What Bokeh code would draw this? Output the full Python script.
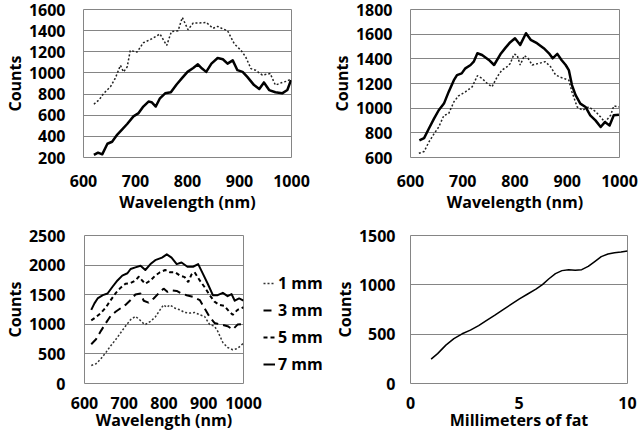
from bokeh.plotting import figure
from bokeh.layouts import column, row
from bokeh.models import Range1d, FixedTicker, Legend, LegendItem, Spacer
from bokeh.embed import file_html
from bokeh.resources import INLINE

# ---------------- data ----------------
# Panel A (top-left)
a_dot_x = [620, 630, 639, 652, 661, 671, 677, 684, 690, 703, 715, 731, 747, 760, 769, 782, 790, 801, 811, 823, 836, 849, 858, 868, 877, 890, 903, 912, 922, 931, 944, 959, 969, 982, 992, 998]
a_dot_y = [704, 745, 807, 870, 948, 1072, 1010, 1057, 1213, 1197, 1285, 1322, 1369, 1260, 1391, 1400, 1525, 1409, 1472, 1472, 1478, 1422, 1440, 1416, 1400, 1275, 1213, 1150, 1041, 1026, 979, 994, 885, 910, 923, 941]
a_sol_x = [620, 628, 636, 646, 655, 665, 674, 684, 696, 706, 715, 725, 731, 739, 747, 757, 768, 779, 789, 800, 811, 820, 828, 836, 846, 858, 868, 877, 887, 896, 906, 915, 928, 938, 947, 957, 969, 982, 992, 999]
a_sol_y = [224, 246, 230, 330, 349, 417, 464, 517, 589, 620, 682, 729, 723, 682, 760, 807, 817, 891, 948, 1010, 1047, 1082, 1041, 1010, 1088, 1141, 1129, 1088, 1119, 1026, 1010, 963, 885, 848, 910, 838, 817, 807, 838, 932]

# Panel B (top-right)
b_sol_x = [617, 626, 635, 645, 654, 664, 673, 683, 689, 698, 705, 715, 721, 728, 737, 750, 760, 772, 782, 791, 800, 810, 821, 830, 842, 855, 865, 872, 881, 889, 897, 903, 909, 916, 925, 935, 944, 954, 964, 972, 981, 989, 999]
b_sol_y = [738, 757, 833, 915, 983, 1037, 1132, 1227, 1268, 1282, 1323, 1350, 1377, 1445, 1431, 1391, 1350, 1437, 1491, 1535, 1567, 1513, 1608, 1554, 1527, 1486, 1445, 1404, 1440, 1391, 1350, 1309, 1187, 1105, 1037, 1010, 942, 901, 847, 887, 860, 942, 947]
b_dot_x = [616, 626, 635, 645, 654, 664, 673, 683, 692, 705, 718, 728, 737, 747, 756, 766, 775, 785, 791, 798, 804, 810, 818, 825, 833, 846, 858, 868, 878, 890, 903, 909, 919, 929, 941, 954, 964, 972, 983, 989, 999]
b_dot_y = [634, 648, 724, 792, 847, 942, 955, 1051, 1100, 1132, 1173, 1263, 1241, 1200, 1173, 1255, 1309, 1336, 1363, 1437, 1431, 1350, 1426, 1404, 1350, 1363, 1377, 1336, 1268, 1246, 1227, 1132, 1010, 983, 1010, 974, 928, 887, 942, 1018, 1010]

# Panel C (bottom-left)
c_7_x = [617, 625, 633, 646, 658, 670, 683, 695, 708, 716, 728, 741, 753, 766, 778, 795, 807, 819, 832, 844, 859, 873, 886, 898, 910, 923, 935, 948, 960, 970, 978, 989, 1000]
c_7_y = [1244, 1354, 1437, 1492, 1520, 1630, 1741, 1823, 1862, 1934, 1961, 1989, 1917, 2017, 2083, 2127, 2182, 2127, 2017, 2044, 1972, 1972, 2017, 1851, 1685, 1492, 1492, 1531, 1476, 1509, 1398, 1437, 1398]
c_5_x = [617, 629, 641, 654, 666, 679, 691, 703, 716, 728, 737, 745, 753, 766, 778, 790, 803, 815, 828, 840, 852, 861, 869, 877, 890, 902, 915, 927, 939, 952, 964, 973, 985, 1000]
c_5_y = [1067, 1122, 1189, 1288, 1409, 1531, 1619, 1685, 1696, 1741, 1807, 1741, 1685, 1741, 1823, 1879, 1917, 1879, 1879, 1823, 1796, 1713, 1840, 1879, 1741, 1630, 1492, 1382, 1327, 1310, 1216, 1161, 1244, 1288]
c_3_x = [617, 629, 641, 654, 666, 679, 691, 703, 716, 728, 741, 749, 761, 774, 786, 799, 809, 819, 832, 844, 857, 873, 890, 902, 915, 927, 944, 960, 973, 985, 1000]
c_3_y = [664, 747, 885, 1023, 1144, 1216, 1271, 1327, 1409, 1503, 1520, 1398, 1365, 1437, 1520, 1603, 1547, 1575, 1564, 1520, 1492, 1465, 1409, 1271, 1122, 1023, 995, 968, 913, 995, 1006]
c_1_x = [617, 629, 641, 654, 666, 679, 691, 703, 716, 728, 737, 745, 753, 766, 778, 790, 799, 807, 815, 828, 840, 852, 865, 877, 890, 902, 915, 927, 935, 948, 960, 973, 985, 1000]
c_1_y = [305, 333, 416, 526, 637, 747, 857, 968, 1078, 1133, 1089, 1034, 995, 1051, 1122, 1244, 1327, 1288, 1327, 1271, 1244, 1200, 1189, 1200, 1161, 1133, 995, 968, 885, 692, 609, 570, 592, 681]
c_labels = ["1 mm", "3 mm", "5 mm", "7 mm"]

# Panel D (bottom-right)
d_x = [0.95, 1.25, 1.63, 2.0, 2.38, 2.76, 3.14, 3.51, 3.89, 4.27, 4.65, 5.02, 5.40, 5.78, 6.08, 6.38, 6.68, 6.98, 7.29, 7.59, 7.89, 8.19, 8.49, 8.79, 9.10, 9.40, 9.70, 10.0]
d_y = [247, 303, 389, 455, 504, 541, 587, 640, 692, 748, 804, 857, 907, 956, 1002, 1062, 1114, 1144, 1154, 1147, 1154, 1187, 1236, 1286, 1312, 1325, 1332, 1342]

wl_ticks = [600, 700, 800, 900, 1000]
a_yticks = [200, 400, 600, 800, 1000, 1200, 1400, 1600]
b_yticks = [600, 800, 1000, 1200, 1400, 1600, 1800]
c_yticks = [0, 500, 1000, 1500, 2000, 2500]
d_yticks = [0, 500, 1000, 1500]
d_xticks = [0, 5, 10]

FONT = "Open Sans"
FS = "16px"
GRID = "#858585"

C1_STYLE = dict(line_color="#333333", line_width=1.5, line_dash="2 2")
C3_STYLE = dict(line_color="black", line_width=2, line_dash="8 5")
C5_STYLE = dict(line_color="black", line_width=2, line_dash="4 3")
C7_STYLE = dict(line_color="black", line_width=2, line_join="round")


def make(width, height, xr, yr, xticks, yticks, xlabel, borders, xstand, ystand, xlab_stand, lh=None):
    bt, bl, bb, br = borders
    p = figure(width=width, height=height, output_backend="svg", toolbar_location=None,
               x_range=Range1d(*xr), y_range=Range1d(*yr),
               min_border_top=bt, min_border_left=bl, min_border_bottom=bb, min_border_right=br)
    p.outline_line_color = GRID
    p.outline_line_width = 1
    p.xgrid.grid_line_color = None
    p.ygrid.grid_line_color = GRID
    p.ygrid.grid_line_width = 1
    p.ygrid.ticker = FixedTicker(ticks=yticks)
    p.xaxis.ticker = FixedTicker(ticks=xticks)
    p.yaxis.ticker = FixedTicker(ticks=yticks)
    for ax in (p.xaxis[0], p.yaxis[0]):
        ax.axis_line_color = None
        ax.major_tick_line_color = None
        ax.minor_tick_line_color = None
        ax.major_tick_out = 0
        ax.major_tick_in = 0
        ax.minor_tick_out = 0
        ax.minor_tick_in = 0
        ax.major_label_text_font = FONT
        ax.major_label_text_font_style = "bold"
        ax.major_label_text_font_size = FS
        ax.major_label_text_color = "black"
        ax.axis_label_text_font = FONT
        ax.axis_label_text_font_style = "bold"
        ax.axis_label_text_font_size = FS
        ax.axis_label_text_color = "black"
    if lh is not None:
        p.xaxis.major_label_text_line_height = lh
        p.xaxis.axis_label_text_line_height = lh
    p.xaxis.axis_label = xlabel
    p.yaxis.axis_label = "Counts"
    p.xaxis.major_label_standoff = xstand
    p.yaxis.major_label_standoff = ystand
    p.xaxis.axis_label_standoff = xlab_stand
    p.yaxis.axis_label_standoff = 0
    return p


# Panel A
p1 = make(318, 224, (600, 1000), (200, 1600), wl_ticks, a_yticks, "Wavelength (nm)",
          (9, 81, 66, 27), 17, 18, 1)
p1.line(a_dot_x, a_dot_y, line_color="#222222", line_width=1.5, line_dash="2 2")
p1.line(a_sol_x, a_sol_y, line_color="black", line_width=2.5, line_join="round")

# Panel B
p2 = make(321, 224, (600, 1000), (600, 1800), wl_ticks, b_yticks, "Wavelength (nm)",
          (9, 92, 67, 20), 17, 18, 1)
p2.line(b_dot_x, b_dot_y, line_color="#222222", line_width=1.5, line_dash="2 2")
p2.line(b_sol_x, b_sol_y, line_color="black", line_width=2.5, line_join="round")

# Panel C
p3 = make(263, 215, (600, 1000), (0, 2500), wl_ticks, c_yticks, "Wavelength (nm)",
          (9, 81, 56, 20), 13, 19, -3, lh=0.8)
p3.line(c_1_x, c_1_y, **C1_STYLE)
p3.line(c_3_x, c_3_y, **C3_STYLE)
p3.line(c_5_x, c_5_y, **C5_STYLE)
p3.line(c_7_x, c_7_y, **C7_STYLE)

# Legend of panel C, in its own small figure next to it (its lines lie outside its view)
pleg = figure(width=67, height=167, output_backend="svg", toolbar_location=None,
              min_border=0, x_range=Range1d(0, 1), y_range=Range1d(0, 1))
pleg.axis.visible = False
pleg.grid.grid_line_color = None
pleg.outline_line_color = None
g1 = pleg.line(c_1_x, c_1_y, **C1_STYLE)
g3 = pleg.line(c_3_x, c_3_y, **C3_STYLE)
g5 = pleg.line(c_5_x, c_5_y, **C5_STYLE)
g7 = pleg.line(c_7_x, c_7_y, **C7_STYLE)
legend = Legend(items=[LegendItem(label=lab, renderers=[r]) for lab, r in zip(c_labels, [g1, g3, g5, g7])],
                location="top_left", orientation="vertical",
                glyph_width=12, glyph_height=20, label_height=20, spacing=5,
                label_standoff=3, padding=0, margin=0,
                border_line_color=None, background_fill_alpha=0,
                label_text_font=FONT, label_text_font_style="bold", label_text_font_size=FS,
                label_text_color="black")
pleg.add_layout(legend, "center")
leg_col = column(Spacer(width=67, height=48), pleg)

# Panel D
p4 = make(309, 215, (0, 10), (0, 1500), d_xticks, d_yticks, "Millimeters of fat",
          (11, 76, 52, 12), 13, 15, -3, lh=0.8)
p4.line(d_x, d_y, line_color="black", line_width=1.5, line_join="round")

layout = column(row(p1, p2), row(p3, leg_col, p4))
open("out.html", "w").write(file_html(layout, INLINE))
